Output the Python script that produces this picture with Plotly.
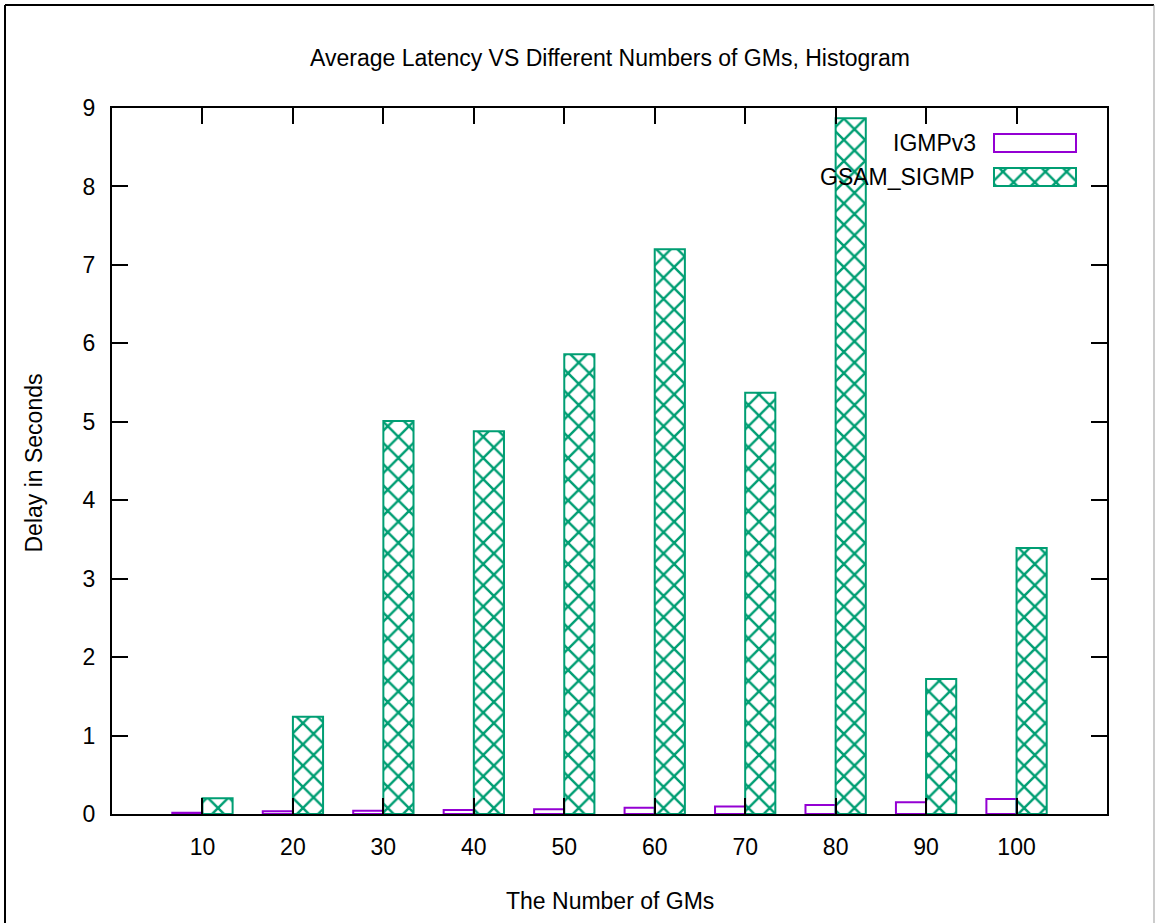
import plotly.graph_objects as go

# Average latency (seconds) per group-member count
gm_counts = [10, 20, 30, 40, 50, 60, 70, 80, 90, 100]
igmpv3 = [0.015, 0.035, 0.04, 0.05, 0.06, 0.08, 0.095, 0.115, 0.15, 0.19]
gsam_sigmp = [0.20, 1.24, 5.01, 4.88, 5.86, 7.20, 5.37, 8.87, 1.72, 3.39]
y_ticks = list(range(0, 10))

PURPLE = "#9400d3"
GREEN = "#009e73"
FONT = "Liberation Sans, Arial, sans-serif"
FS = 23

W, H = 1155, 923
L, R, T, B = 112, 48, 108, 109
pw, ph = W - L - R, H - T - B

def px(x):
    return (x - L) / pw

def py(y):
    return (H - B - y) / ph

idx = list(range(len(gm_counts)))
bw = 1 / 3
hatch = dict(shape="x", fgcolor=GREEN, bgcolor="white",
             size=15, solidity=0.3, fillmode="replace")

fig = go.Figure()
fig.add_trace(go.Bar(
    x=idx, y=igmpv3, width=bw, offset=-bw,
    marker=dict(color="white", line=dict(color=PURPLE, width=2)),
    name="IGMPv3", showlegend=False,
))
fig.add_trace(go.Bar(
    x=idx, y=gsam_sigmp, width=bw, offset=0,
    marker=dict(color="white", line=dict(color=GREEN, width=2), pattern=hatch),
    name="GSAM_SIGMP", showlegend=False,
))

# key samples drawn on an overlay axis spanning the plot area
kx0, kx1 = px(994), px(1076)
kh = (151.7 - 133.7) / ph
for yc, style in [(py(143), "plain"), (py(177), "hatch")]:
    marker = dict(color="white", line=dict(color=PURPLE if style == "plain" else GREEN, width=2))
    if style == "hatch":
        marker["pattern"] = hatch
    fig.add_trace(go.Bar(
        x=[kx1 - kx0], base=[kx0], y=[yc], width=[kh], orientation="h",
        marker=marker, xaxis="x2", yaxis="y2", showlegend=False, hoverinfo="skip",
    ))

axis_common = dict(
    showline=True, linecolor="black", linewidth=2, mirror="ticks",
    ticks="inside", ticklen=16, tickwidth=2, tickcolor="black",
    showgrid=False, zeroline=False,
    tickfont=dict(family=FONT, size=FS, color="black"),
)

fig.update_layout(
    width=W, height=H,
    margin=dict(l=L, r=R, t=T, b=B),
    paper_bgcolor="white", plot_bgcolor="white",
    barmode="overlay",
    font=dict(family=FONT, size=FS, color="black"),
    title=dict(text="Average Latency VS Different Numbers of GMs, Histogram",
               x=610 / W, xanchor="center",
               y=1 - 58 / H, yanchor="middle", yref="container",
               font=dict(family=FONT, size=FS, color="black")),
    xaxis=dict(range=[-1, len(gm_counts)], tickmode="array", tickvals=idx,
               ticktext=[str(v) for v in gm_counts], ticklabelstandoff=11,
               **axis_common),
    yaxis=dict(range=[0, 9], tickmode="array", tickvals=y_ticks,
               ticktext=[str(v) for v in y_ticks], ticklabelstandoff=10,
               **axis_common),
    xaxis2=dict(overlaying="x", range=[0, 1], visible=False),
    yaxis2=dict(overlaying="y", range=[0, 1], visible=False),
    annotations=[
        dict(text="The Number of GMs", xref="paper", yref="paper",
             x=px(610), y=py(901), xanchor="center", yanchor="middle",
             showarrow=False, font=dict(family=FONT, size=FS)),
        dict(text="Delay in Seconds", xref="paper", yref="paper",
             x=px(33), y=py(463.5), xanchor="center", yanchor="middle",
             textangle=-90, showarrow=False, font=dict(family=FONT, size=FS)),
        dict(text="IGMPv3", xref="paper", yref="paper",
             x=px(978), y=py(143), xanchor="right", yanchor="middle",
             showarrow=False, font=dict(family=FONT, size=FS)),
        dict(text="GSAM_SIGMP", xref="paper", yref="paper",
             x=px(977), y=py(177), xanchor="right", yanchor="middle",
             showarrow=False, font=dict(family=FONT, size=FS)),
    ],
    shapes=[
        dict(type="line", xref="paper", yref="paper", x0=px(5), x1=px(1154),
             y0=py(5), y1=py(5), line=dict(color="black", width=2)),
        dict(type="line", xref="paper", yref="paper", x0=px(5), x1=px(5),
             y0=py(5), y1=py(930), line=dict(color="black", width=2)),
        dict(type="line", xref="paper", yref="paper", x0=px(1154), x1=px(1154),
             y0=py(5), y1=py(930), line=dict(color="#999999", width=1)),
    ],
)

fig.write_html("out.html")
